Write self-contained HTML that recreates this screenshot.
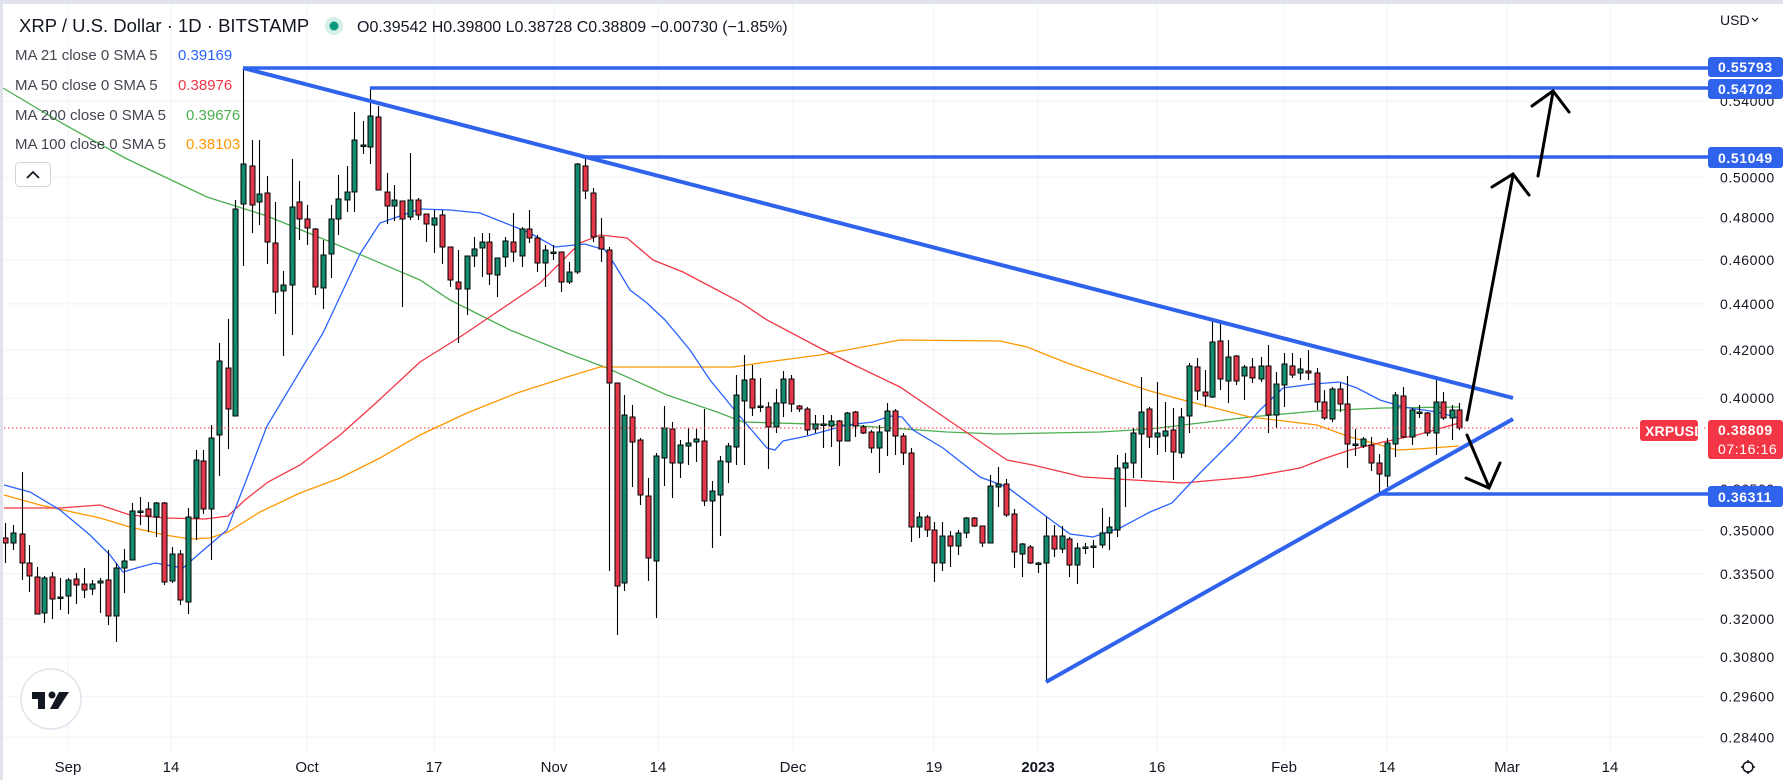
<!DOCTYPE html>
<html><head><meta charset="utf-8"><style>
html,body{margin:0;padding:0;background:#fff;}
svg{display:block;font-family:"Liberation Sans",sans-serif;}
</style></head><body>
<svg id="c" width="1783" height="780" viewBox="0 0 1783 780" xmlns="http://www.w3.org/2000/svg">
<rect x="0" y="0" width="1783" height="780" fill="#fff"/>
<g id="grid" stroke="#f0f3fa" stroke-width="1"></g>
<g id="mas" fill="none" stroke-width="1.3"></g>
<g id="candles"></g>
<line x1="4" y1="428" x2="1707" y2="428" stroke="#f23645" stroke-width="1" stroke-dasharray="1.5,2.5"/>
<g stroke="#2f63ec" stroke-width="3.5">
<line x1="243" y1="68" x2="1708" y2="68"/>
<line x1="370" y1="88" x2="1708" y2="88"/>
<line x1="583" y1="157" x2="1708" y2="157"/>
<line x1="1380" y1="494" x2="1708" y2="494"/>
<line x1="243" y1="68" x2="1513" y2="398" stroke-width="4"/>
<line x1="1046" y1="682" x2="1513" y2="419" stroke-width="4"/>
</g>
<g stroke="#000" stroke-width="3" fill="none" stroke-linecap="round">
<line x1="1467" y1="420" x2="1513" y2="175"/>
<polyline points="1492,187 1513,174 1529,195"/>
<line x1="1538" y1="176" x2="1553" y2="92"/>
<polyline points="1532,106 1553,91 1569,112"/>
<line x1="1467" y1="435" x2="1489" y2="487"/>
<polyline points="1466,478 1489,488 1500,463"/>
</g>
<text x="19" y="32" font-size="18.5" fill="#131722">XRP / U.S. Dollar · 1D · BITSTAMP</text>
<circle cx="334" cy="26" r="9" fill="#d6efe9"/>
<circle cx="334" cy="26" r="4.5" fill="#089981"/>
<text x="357" y="32" font-size="16" fill="#131722">O0.39542 H0.39800 L0.38728 C0.38809 −0.00730 (−1.85%)</text>
<g font-size="15" fill="#434651">
<text x="15" y="60">MA 21 close 0 SMA 5</text>
<text x="15" y="90">MA 50 close 0 SMA 5</text>
<text x="15" y="120">MA 200 close 0 SMA 5</text>
<text x="15" y="149">MA 100 close 0 SMA 5</text>
</g>
<text x="178" y="60" font-size="15" fill="#2962ff">0.39169</text>
<text x="178" y="90" font-size="15" fill="#f23645">0.38976</text>
<text x="186" y="120" font-size="15" fill="#4caf50">0.39676</text>
<text x="186" y="149" font-size="15" fill="#ff9800">0.38103</text>
<rect x="15.5" y="162.5" width="35" height="24" rx="4" fill="#fff" stroke="#d1d4dc"/>
<polyline points="27,178 33,172 39,178" fill="none" stroke="#131722" stroke-width="1.8"/>
<circle cx="51" cy="699" r="30" fill="#fff" stroke="#e0e3eb" stroke-width="1.5"/>
<path d="M32 692 h13 v17 h-7 v-10 h-6z" fill="#131722"/>
<circle cx="52" cy="695" r="3.5" fill="#131722"/>
<path d="M59 692 h10 l-11 17 h-8z" fill="#131722"/>
<g id="paxis" font-size="14" fill="#131722" letter-spacing="0.6"></g>
<text x="1720" y="25" font-size="14" fill="#131722">USD</text>
<polyline points="1752,18 1755,21 1758,18" fill="none" stroke="#131722" stroke-width="1.2"/>
<g font-size="14" font-weight="bold" fill="#fff" letter-spacing="0.6">
<rect x="1708" y="57" width="75" height="20" rx="3" fill="#2f63ec"/>
<rect x="1708" y="79" width="75" height="20" rx="3" fill="#2f63ec"/>
<text x="1718" y="72">0.55793</text>
<text x="1718" y="94">0.54702</text>
<rect x="1708" y="147" width="75" height="21" rx="3" fill="#2f63ec"/>
<text x="1718" y="163">0.51049</text>
<rect x="1708" y="486" width="75" height="21" rx="3" fill="#2f63ec"/>
<text x="1718" y="502">0.36311</text>
<rect x="1640" y="420" width="58" height="21" rx="3" fill="#f23645"/>
<text x="1645" y="436" letter-spacing="0.2">XRPUSD</text>
<rect x="1708" y="420" width="75" height="39" rx="3" fill="#f23645"/>
<text x="1718" y="435">0.38809</text>
<text x="1718" y="454" font-weight="normal">07:16:16</text>
</g>
<g font-size="15" fill="#131722" text-anchor="middle">
<text x="68" y="772">Sep</text><text x="171" y="772">14</text>
<text x="307" y="772">Oct</text><text x="434" y="772">17</text>
<text x="554" y="772">Nov</text><text x="658" y="772">14</text>
<text x="793" y="772">Dec</text><text x="934" y="772">19</text>
<text x="1038" y="772" font-weight="bold">2023</text><text x="1157" y="772">16</text>
<text x="1284" y="772">Feb</text><text x="1387" y="772">14</text>
<text x="1507" y="772">Mar</text><text x="1610" y="772">14</text>
</g>
<circle cx="1748" cy="767" r="5" fill="none" stroke="#131722" stroke-width="1.5"/>
<g stroke="#131722" stroke-width="1.5"><line x1="1741" y1="767" x2="1755" y2="767"/><line x1="1748" y1="760" x2="1748" y2="774"/></g>
<circle cx="1748" cy="767" r="4" fill="#fff"/>
<rect x="0" y="0" width="1783" height="4" fill="#e0e3eb"/>
<rect x="0" y="0" width="3" height="780" fill="#e0e3eb"/>
</svg>
<script>
var NS="http://www.w3.org/2000/svg";
function el(p,t,a){var e=document.createElementNS(NS,t);for(var k in a)e.setAttribute(k,a[k]);p.appendChild(e);return e;}
var grid=document.getElementById('grid');
var ticks=[["0.54000",101.2],["0.50000",177.3],["0.48000",217.7],["0.46000",259.8],["0.44000",303.9],["0.42000",349.9],["0.40000",398.2],["0.36500",488.8],["0.35000",530.4],["0.33500",573.8],["0.32000",619.1],["0.30800",657],["0.29600",696.3],["0.28400",737.3]];
var pa=document.getElementById('paxis');
ticks.forEach(function(t){el(grid,'line',{x1:3,x2:1707,y1:t[1],y2:t[1]});var tx=el(pa,'text',{x:1720,y:t[1]+5});tx.textContent=t[0];});
[68,171,307,434,554,658,793,934,1038,1157,1284,1387,1507,1610].forEach(function(x){el(grid,'line',{x1:x,x2:x,y1:4,y2:752});});
var mas=document.getElementById('mas');
var M={
"#4caf50":[[3,88],[67,126],[127,159],[207,197],[267,216],[333,243],[420,280],[450,300],[510,330],[567,353],[607,368],[667,395],[717,412],[743,422],[847,425],[947,432],[997,434],[1100,432],[1150,429],[1250,417],[1317,411],[1383,408],[1459,407]],
"#ff9800":[[4,495],[40,505],[100,518],[130,527],[165,535],[190,539],[210,538],[228,532],[260,512],[300,493],[340,478],[380,458],[420,435],[467,413],[517,393],[567,377],[600,367],[733,367],[767,362],[820,355],[900,340],[1000,341],[1027,347],[1067,363],[1117,380],[1150,391],[1183,400],[1250,417],[1317,425],[1350,437],[1377,444],[1397,450],[1417,449],[1459,446]],
"#f23645":[[4,508],[60,508],[100,505],[130,515],[165,518],[205,519],[228,516],[245,500],[268,482],[300,465],[340,435],[377,402],[420,362],[460,337],[500,310],[540,283],[580,243],[600,235],[627,238],[653,260],[683,272],[740,302],[767,320],[820,348],[850,363],[900,387],[963,430],[1007,460],[1033,465],[1083,477],[1150,481],[1183,483],[1250,477],[1300,468],[1323,459],[1350,450],[1383,442],[1417,435],[1459,423]],
"#2962ff":[[4,485],[30,492],[60,510],[90,535],[110,555],[123,572],[140,567],[155,563],[183,568],[200,553],[227,530],[267,426],[323,333],[360,254],[380,223],[420,209],[450,210],[480,213],[500,221],[530,233],[555,247],[585,244],[605,250],[615,265],[630,290],[647,303],[665,320],[690,350],[710,380],[737,413],[767,448],[775,450],[783,441],[807,436],[847,425],[873,422],[890,416],[902,417],[913,430],[943,448],[980,477],[1007,487],[1047,517],[1070,534],[1093,537],[1120,528],[1150,512],[1172,503],[1200,473],[1233,440],[1260,410],[1283,388],[1313,384],[1340,382],[1357,388],[1380,400],[1403,407],[1437,412],[1459,418]]};
for(var c in M){el(mas,'polyline',{points:M[c].map(function(p){return p.join(',');}).join(' '),stroke:c});}
var C=[[5,538,543,'r',523,563],[13,533,543,'g',525,550],[22,534,563,'r',472,580],[29,563,576,'r',545,592],[37,577,614,'r',567,614],[44,578,613,'g',576,623],[52,577,599,'r',572,619],[60,597,598,'g',578,610],[68,580,596,'g',578,614],[76,579,585,'r',573,604],[84,584,590,'r',568,598],[92,584,589,'g',580,595],[100,581,583,'g',578,613],[108,580,616,'r',550,625],[116,568,616,'g',563,642],[124,561,568,'g',549,593],[132,511,560,'g',503,560],[140,511,512,'g',497,525],[148,509,516,'r',502,532],[156,503,517,'g',502,537],[164,503,582,'r',502,585],[172,554,581,'g',547,583],[180,554,600,'r',550,605],[188,517,602,'g',508,614],[196,460,518,'g',450,540],[203,461,509,'r',450,514],[211,438,509,'g',425,560],[219,361,435,'g',343,476],[228,368,409,'r',319,449],[235,209,416,'g',200,416],[243,164,204,'g',68,266],[252,166,205,'r',140,233],[259,194,202,'g',140,225],[267,193,242,'r',176,264],[275,243,292,'r',202,314],[283,285,291,'g',271,356],[292,207,285,'g',159,335],[299,202,219,'r',181,240],[307,219,228,'r',205,245],[315,229,287,'r',228,295],[323,255,288,'g',240,309],[331,219,254,'g',205,278],[338,199,219,'g',175,235],[347,192,200,'g',166,212],[354,140,192,'g',112,212],[363,145,146,'g',121,154],[370,116,147,'g',87,164],[378,117,190,'r',106,190],[387,192,206,'r',173,224],[394,200,206,'g',185,221],[402,201,219,'r',202,307],[410,200,217,'g',153,220],[418,200,215,'r',198,220],[426,214,224,'r',215,242],[434,218,225,'g',210,253],[442,215,247,'r',210,264],[450,247,280,'r',247,287],[458,282,289,'r',250,343],[467,256,289,'g',256,315],[474,249,256,'g',237,267],[482,242,248,'g',233,277],[489,242,274,'r',233,285],[497,258,275,'g',258,297],[505,241,257,'g',237,267],[513,242,252,'r',213,262],[522,229,256,'g',227,267],[529,229,238,'r',210,243],[537,238,263,'r',235,272],[545,250,263,'g',245,287],[553,252,253,'g',245,260],[561,252,282,'r',252,292],[569,272,282,'g',262,284],[577,164,272,'g',163,274],[585,166,191,'r',159,199],[593,193,237,'r',188,242],[601,237,249,'r',218,262],[609,250,383,'r',247,571],[617,383,586,'r',383,635],[624,415,583,'g',395,591],[632,417,442,'r',405,487],[640,440,495,'r',438,505],[648,496,558,'r',478,581],[656,456,561,'g',453,618],[664,428,458,'g',406,486],[672,429,463,'r',422,498],[680,445,463,'g',440,478],[688,443,446,'g',428,465],[696,439,442,'g',429,462],[704,441,501,'r',409,506],[712,491,501,'g',481,548],[720,461,495,'g',456,536],[728,446,462,'g',443,483],[736,395,447,'g',375,465],[744,380,401,'g',355,465],[752,379,408,'r',365,416],[760,406,407,'g',378,412],[768,407,427,'r',402,469],[776,403,427,'g',389,433],[783,379,403,'g',371,417],[791,379,404,'r',375,412],[799,406,409,'r',405,412],[807,409,430,'r',407,435],[815,424,429,'g',415,433],[823,424,425,'g',415,448],[831,421,426,'g',415,447],[839,421,441,'r',420,466],[847,413,441,'g',412,441],[855,412,426,'r',411,437],[863,427,433,'r',425,434],[871,432,448,'r',430,453],[879,432,448,'g',425,473],[887,411,431,'g',403,456],[895,411,436,'r',409,455],[903,436,453,'r',433,465],[911,453,527,'r',448,542],[919,517,527,'g',512,538],[927,517,530,'r',515,537],[934,530,563,'r',522,582],[942,536,563,'g',522,571],[950,536,546,'r',531,567],[958,533,546,'g',530,555],[966,518,533,'g',517,538],[974,518,526,'r',517,527],[982,526,543,'r',526,547],[990,486,543,'g',475,543],[998,484,487,'g',467,507],[1006,484,515,'r',479,517],[1014,514,552,'r',509,568],[1022,544,554,'g',543,577],[1030,547,563,'r',545,564],[1038,563,564,'g',562,573],[1046,536,563,'g',517,682],[1054,536,549,'r',525,557],[1062,536,549,'g',526,553],[1069,539,565,'r',537,577],[1077,548,565,'g',543,584],[1085,547,548,'g',543,554],[1093,546,547,'g',540,568],[1102,533,545,'g',508,548],[1109,527,533,'g',517,550],[1117,468,530,'g',455,537],[1125,463,468,'g',453,507],[1133,433,463,'g',428,478],[1141,412,434,'g',377,478],[1149,409,437,'r',407,448],[1157,433,437,'g',382,455],[1165,431,436,'g',402,452],[1173,430,452,'r',408,480],[1181,417,453,'g',408,458],[1189,366,416,'g',363,433],[1197,367,391,'r',358,400],[1205,392,396,'r',370,407],[1212,342,397,'g',320,398],[1220,341,379,'r',324,390],[1228,357,381,'g',340,403],[1236,356,381,'r',355,385],[1244,367,376,'g',365,400],[1252,367,378,'r',358,383],[1261,366,379,'g',357,382],[1268,366,415,'r',345,433],[1276,384,415,'g',372,428],[1284,364,385,'g',353,407],[1292,366,375,'r',353,378],[1300,369,373,'g',358,380],[1308,371,373,'r',350,380],[1317,373,402,'r',368,410],[1324,402,418,'r',390,420],[1332,389,419,'g',387,422],[1340,389,404,'r',383,412],[1347,404,444,'r',376,468],[1355,444,445,'g',429,456],[1363,439,446,'g',437,448],[1371,445,463,'r',437,471],[1379,463,474,'r',454,496],[1387,443,476,'g',438,487],[1395,395,444,'g',392,457],[1403,396,437,'r',387,438],[1412,410,437,'g',408,445],[1419,412,413,'g',405,418],[1427,413,433,'r',412,436],[1436,402,433,'g',376,455],[1443,402,418,'r',392,420],[1452,410,418,'g',405,440],[1459,410,428,'r',403,430]];
var cg=document.getElementById('candles');
C.forEach(function(k){
 var x=k[0],t=k[1],b=k[2],col=k[3]=='g'?'#138a6e':'#e5374a';
 if(b-t<1.5){b=t+1.5;}
 el(cg,'line',{x1:x+0.5,x2:x+0.5,y1:Math.min(k[4],t),y2:Math.max(k[5],b),stroke:'#000','stroke-width':1.1});
 el(cg,'rect',{x:x-2,y:t,width:5,height:b-t,fill:col,stroke:'#000','stroke-width':1});
});
</script>
</body></html>
